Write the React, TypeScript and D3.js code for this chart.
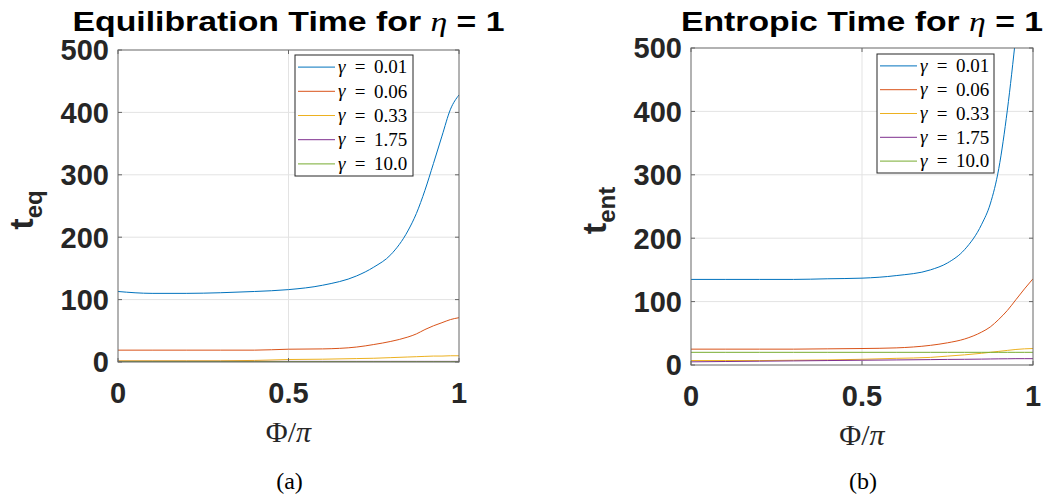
import React from 'react';
import * as d3 from 'd3';

// phi / pi sample points shared by all series
const phi = [0, 0.1, 0.2, 0.3, 0.4, 0.5, 0.6, 0.7, 0.75, 0.8, 0.85, 0.875, 0.9, 0.925, 0.95, 0.975, 1];

const gammaLabels = ['0.01', '0.06', '0.33', '1.75', '10.0'];
const colors = ['#0072BD', '#D95319', '#EDB120', '#7E2F8E', '#77AC30'];

// equilibration time
const teq001 = [113, 110, 110, 111, 113, 116, 123, 138, 152, 172, 210, 238, 275, 318, 362, 405, 428];
const teq006 = [19, 19, 19, 19, 19, 20.5, 21, 24, 28, 33, 40, 45, 52, 58, 63, 68, 71];
const teq033 = [2, 2, 2, 2, 2.5, 4, 4.5, 5.5, 6, 7, 8, 8.5, 9, 9.5, 9.5, 10, 10];
const teq175 = [1, 1, 1, 1, 1, 1, 1, 1, 1, 1, 1, 1, 1, 1, 1, 1, 1];
const teq100 = [0.4, 0.4, 0.4, 0.4, 0.4, 0.4, 0.4, 0.4, 0.4, 0.4, 0.4, 0.4, 0.4, 0.4, 0.4, 0.4, 0.4];

// entropic time
const tent001 = [135, 135, 135, 135, 136, 137, 141, 150, 161, 182, 222, 254, 310, 402, 520, 650, 760];
const tent006 = [25, 25, 25, 25, 25.5, 26, 27, 31, 35, 41, 52, 60, 72, 86, 103, 120, 136];
const tent033 = [7, 7, 7, 7.5, 8, 9, 10.5, 12, 14, 16, 18.5, 20, 21.5, 23, 24.5, 25.5, 26];
const tent175 = [5, 5.5, 6, 6.5, 7, 7.5, 8, 8.5, 8.8, 9, 9.3, 9.5, 9.7, 9.8, 10, 10, 10];
const tent100 = [20, 20, 20, 20, 20, 20, 20, 20, 20, 20, 20, 20, 20, 20, 20, 20, 20];

const yTicks = [0, 100, 200, 300, 400, 500];
const xTicks = [0, 0.5, 1];
const xTickLabels = ['0', '0.5', '1'];

const sans = '"Liberation Sans", Arial, sans-serif';
const serif = '"Liberation Serif", "Times New Roman", serif';

type PanelProps = {
  id: string;
  left: number;
  right: number;
  top: number;
  bottom: number;
  title: string;
  titleWidth: number;
  sub: string;
  caption: string;
  series: number[][];
  legend: { x: number; y: number; w: number; h: number };
};

const Panel = ({ id, left, right, top, bottom, title, titleWidth, sub, caption, series, legend }: PanelProps) => {
  const x = d3.scaleLinear().domain([0, 1]).range([left, right]);
  const y = d3.scaleLinear().domain([0, 500]).range([bottom, top]);
  const cx = (left + right) / 2;
  const cy = (top + bottom) / 2;
  const axisColor = '#666';
  const tickLen = 4;

  const line = (vals: number[]) =>
    d3
      .line<number>()
      .x((_, i) => x(phi[i]))
      .y((d) => y(d))
      .curve(d3.curveMonotoneX)(vals) || '';

  const rowH = legend.h / series.length;

  return (
    <g>
      <defs>
        <clipPath id={`clip-${id}`}>
          <rect x={left} y={top} width={right - left} height={bottom - top} />
        </clipPath>
      </defs>
      <rect x={left} y={top} width={right - left} height={bottom - top} fill="#fff" />
      {/* grid */}
      {yTicks.slice(1, -1).map((t) => (
        <line key={`gy${t}`} x1={left} x2={right} y1={y(t)} y2={y(t)} stroke="#e3e3e3" strokeWidth={1} />
      ))}
      {xTicks.slice(1, -1).map((t) => (
        <line key={`gx${t}`} x1={x(t)} x2={x(t)} y1={top} y2={bottom} stroke="#e3e3e3" strokeWidth={1} />
      ))}
      {/* series */}
      <g clipPath={`url(#clip-${id})`}>
        {series.map((s, i) => (
          <path key={i} d={line(s)} fill="none" stroke={colors[i]} strokeWidth={1} />
        ))}
      </g>
      {/* box + ticks */}
      <rect x={left} y={top} width={right - left} height={bottom - top} fill="none" stroke={axisColor} strokeWidth={1} />
      {yTicks.map((t) => (
        <g key={`ty${t}`}>
          <line x1={left} x2={left + tickLen} y1={y(t)} y2={y(t)} stroke={axisColor} />
          <line x1={right} x2={right - tickLen} y1={y(t)} y2={y(t)} stroke={axisColor} />
          <text x={left - 9} y={y(t)} dy="0.36em" textAnchor="end" fontFamily={sans} fontWeight="bold" fontSize={29} fill="#262626">
            {t}
          </text>
        </g>
      ))}
      {xTicks.map((t, i) => (
        <g key={`tx${t}`}>
          <line x1={x(t)} x2={x(t)} y1={bottom} y2={bottom - tickLen} stroke={axisColor} />
          <line x1={x(t)} x2={x(t)} y1={top} y2={top + tickLen} stroke={axisColor} />
          <text x={x(t)} y={bottom + 41} textAnchor="middle" fontFamily={sans} fontWeight="bold" fontSize={29} fill="#262626">
            {xTickLabels[i]}
          </text>
        </g>
      ))}
      {/* title */}
      <text
        x={cx}
        y={31}
        textAnchor="middle"
        fontFamily={sans}
        fontWeight="bold"
        fontSize={28}
        fill="#000"
        textLength={titleWidth}
        lengthAdjust="spacingAndGlyphs"
      >
        {title}
        <tspan fontFamily={serif} fontStyle="italic" fontWeight="normal">
          η
        </tspan>
        {' = 1'}
      </text>
      {/* y label */}
      <text transform={`translate(${left - 85},${cy + 4}) rotate(-90)`} textAnchor="middle" fontFamily={sans} fontWeight="bold" fontSize={34} fill="#262626">
        t
        <tspan fontSize={24} dy={9}>
          {sub}
        </tspan>
      </text>
      {/* x label */}
      <text x={cx} y={bottom + 80} textAnchor="middle" fontFamily={serif} fontSize={30} fill="#262626">
        Φ/<tspan fontStyle="italic">π</tspan>
      </text>
      {/* caption */}
      <text x={cx + 1} y={489} textAnchor="middle" fontFamily={serif} fontSize={24} fill="#000">
        {caption}
      </text>
      {/* legend */}
      <rect x={legend.x} y={legend.y} width={legend.w} height={legend.h} fill="#fff" stroke="#262626" strokeWidth={1} />
      {series.map((_, i) => {
        const ly = legend.y + rowH * (i + 0.5);
        return (
          <g key={`lg${i}`} fontFamily={serif} fontSize={19} fill="#000">
            <line x1={legend.x + 3} x2={legend.x + 40} y1={ly} y2={ly} stroke={colors[i]} strokeWidth={1} />
            <text x={legend.x + 43} y={ly} dy="0.3em" fontStyle="italic">
              γ
            </text>
            <text x={legend.x + 65} y={ly} dy="0.33em" textAnchor="middle">
              =
            </text>
            <text x={legend.x + 79} y={ly} dy="0.33em">
              {gammaLabels[i]}
            </text>
          </g>
        );
      })}
    </g>
  );
};

const App = () => {
  return (
    <svg
      width={1050}
      height={504}
      style={{ position: 'absolute', left: 0, top: 0, background: '#fff' }}
    >
      <Panel
        id="a"
        left={118}
        right={459}
        top={50}
        bottom={362}
        title="Equilibration Time for "
        titleWidth={432}
        sub="eq"
        caption="(a)"
        series={[teq001, teq006, teq033, teq175, teq100]}
        legend={{ x: 295, y: 55, w: 118, h: 121 }}
      />
      <Panel
        id="b"
        left={691}
        right={1033}
        top={48}
        bottom={365}
        title="Entropic Time for "
        titleWidth={362}
        sub="ent"
        caption="(b)"
        series={[tent001, tent006, tent033, tent175, tent100]}
        legend={{ x: 877, y: 54, w: 117, h: 119 }}
      />
    </svg>
  );
};

export default App;
